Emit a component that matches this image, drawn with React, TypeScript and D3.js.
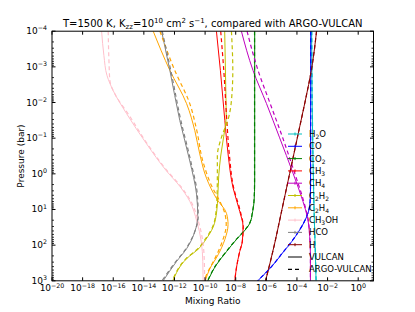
import React from "react";
import * as d3 from "d3";

// chart frame (matplotlib default subplot box for a 415x312 figure)
const W = 415;
const H = 312;
const frame = { left: 52, right: 373.5, top: 31.2, bottom: 280.8 };

// axis ticks (log10 exponents)
const xTickExps = [-20, -18, -16, -14, -12, -10, -8, -6, -4, -2, 0];
const yTickExps = [-4, -3, -2, -1, 0, 1, 2, 3];

// species in legend order
const species = ["H2O", "CO", "CO2", "CH3", "CH4", "C2H2", "C2H4", "CH3OH", "HCO", "H"];
const colors = ["#00bfbf", "#0000ff", "#008000", "#ff0000", "#bf00bf", "#bfbf00", "#ffa500", "#ffc0cb", "#808080", "#8b0000"];

// profiles: [log10 P (bar), log10 mixing ratio]
const H2O_V = [[-4, -3.04], [-2.05, -3.01], [-0.36, -2.95], [1.05, -2.88], [2.04, -2.81], [3, -2.75]];
const H2O_A = [[-4, -3.03], [-2.05, -3.0], [-0.36, -2.95], [1.05, -2.88], [2.04, -2.81], [3, -2.75]];
const CO_V = [[-4, -3.1], [0.2, -3.11], [0.77, -3.14], [1.05, -3.24], [1.33, -3.5], [1.62, -3.89], [1.9, -4.34], [2.18, -4.87], [2.6, -5.65], [3, -6.56]];
const CO_A = [[-4, -3.1], [0.2, -3.11], [0.77, -3.14], [1.05, -3.25], [1.33, -3.51], [1.62, -3.9], [1.9, -4.35], [2.18, -4.88], [2.6, -5.66], [3, -6.57]];
const CO2_V = [[-4, -6.76], [0.21, -6.76], [0.77, -6.8], [1.05, -6.89], [1.39, -7.08], [1.53, -7.3], [1.84, -7.95], [2.18, -8.6], [2.55, -9.26], [3, -9.82]];
const CO2_A = [[-4, -6.77], [0.21, -6.77], [0.77, -6.81], [1.05, -6.9], [1.39, -7.1], [1.53, -7.32], [1.84, -7.97], [2.18, -8.62], [2.55, -9.28], [3, -9.84]];
const CH3_V = [[-4, -9.26], [-2.9, -9.0], [-1.49, -8.71], [-0.56, -8.5], [0.4, -8.17], [1.05, -7.74], [1.48, -7.52], [1.9, -7.57], [2.18, -7.74], [2.63, -7.95], [3, -8.06]];
const CH3_A = [[-4, -8.98], [-2.9, -8.78], [-1.49, -8.58], [-0.56, -8.42], [0.4, -8.13], [1.05, -7.7], [1.48, -7.51], [1.9, -7.57], [2.18, -7.74], [2.63, -7.95], [3, -8.06]];
const CH4_V = [[-4, -7.63], [-2.9, -6.87], [-1.97, -5.99], [-1.01, -5.13], [-0.02, -4.26], [0.77, -3.61], [1.25, -3.3], [1.76, -3.17], [2.27, -3.12], [3, -3.12]];
const CH4_A = [[-4, -7.26], [-2.9, -6.54], [-1.97, -5.75], [-1.01, -4.93], [-0.02, -4.15], [0.77, -3.56], [1.25, -3.28], [1.76, -3.16], [2.27, -3.12], [3, -3.12]];
const C2H2_V = [[-4, -8.72], [-2.42, -8.65], [-1.63, -8.62], [-1.06, -8.78], [-0.5, -8.98], [0.06, -9.11], [0.63, -9.17], [1.05, -9.24], [1.5, -9.48], [1.84, -9.95], [2.07, -10.35], [2.38, -11.21], [3, -12.11]];
const C2H2_A = [[-4, -8.28], [-2.9, -8.19], [-2.05, -8.28], [-1.49, -8.52], [-1.05, -8.91], [-0.49, -9.2], [0.07, -9.2], [0.63, -9.22], [1.05, -9.28], [1.5, -9.52], [1.84, -10.0], [2.07, -10.4], [2.38, -11.25], [3, -12.15]];
const C2H4_V = [[-4, -13.39], [-2.9, -12.3], [-1.97, -11.21], [-1.21, -10.67], [-0.56, -10.35], [0.12, -9.91], [0.69, -9.26], [1.11, -8.6], [1.42, -8.5], [1.84, -8.71], [2.27, -9.15], [2.66, -9.69], [3, -9.99]];
const C2H4_A = [[-4, -12.95], [-2.9, -11.98], [-1.97, -11.0], [-1.21, -10.54], [-0.36, -10.15], [0.35, -9.56], [0.77, -9.04], [1.11, -8.71], [1.42, -8.62], [1.9, -8.88], [2.35, -9.33], [2.75, -9.82], [3, -10.08]];
const CH3OH_V = [[-4, -16.76], [-3.32, -16.61], [-2.76, -16.41], [-2.33, -16.0], [-1.69, -15.13], [-0.84, -13.82], [-0.08, -12.52], [0.35, -11.65], [0.77, -11.0], [1.33, -10.54], [1.9, -10.25], [2.46, -10.15], [3, -10.13]];
const CH3OH_A = [[-4, -16.33], [-3.18, -16.28], [-2.62, -16.22], [-2.19, -15.83], [-1.69, -15.04], [-0.84, -13.77], [-0.08, -12.47], [0.35, -11.59], [0.77, -10.93], [1.33, -10.44], [1.9, -10.15], [2.46, -10.05], [3, -10.03]];
const HCO_V = [[-4, -12.84], [-2.9, -12.3], [-1.49, -11.65], [-0.36, -11.0], [0.57, -10.56], [1.19, -10.48], [1.62, -10.67], [2.1, -11.21], [2.46, -11.87], [3, -12.74]];
const HCO_A = [[-4, -12.8], [-2.9, -12.24], [-1.49, -11.58], [-0.36, -10.94], [0.57, -10.51], [1.19, -10.45], [1.65, -10.7], [2.13, -11.3], [2.49, -11.97], [3, -12.82]];
const H_V = [[-4, -2.72], [-3, -3.02], [-2, -3.48], [-1, -3.98], [0, -4.48], [1, -4.98], [2, -5.48], [3, -6.05]];
const H_A = [[-4, -2.72], [-3, -3.02], [-2, -3.48], [-1, -3.98], [0, -4.48], [1, -4.98], [2, -5.48], [3, -6.05]];

const vulcan = [H2O_V, CO_V, CO2_V, CH3_V, CH4_V, C2H2_V, C2H4_V, CH3OH_V, HCO_V, H_V];
const argo = [H2O_A, CO_A, CO2_A, CH3_A, CH4_A, C2H2_A, C2H4_A, CH3OH_A, HCO_A, H_A];

const FONT = "DejaVu Sans, Liberation Sans, sans-serif";

// "CH3OH" -> CH, sub 3, OH
function chem(label: string) {
  const parts = label.match(/[A-Za-z]+|\d+/g) || [];
  const out: React.ReactNode[] = [];
  let sub = false;
  parts.forEach((p, i) => {
    const isNum = /\d/.test(p);
    const dy = isNum && !sub ? 2 : !isNum && sub ? -2 : 0;
    sub = isNum;
    out.push(
      <tspan key={i} dy={dy} fontSize={isNum ? 6 : 8.5}>
        {p}
      </tspan>
    );
  });
  return out;
}

function Pow10({ e, size }: { e: number; size: number }) {
  const s = e < 0 ? "\u2212" + Math.abs(e) : String(e);
  return (
    <>
      <tspan>10</tspan>
      <tspan dy={-size * 0.42} fontSize={size * 0.7}>
        {s}
      </tspan>
    </>
  );
}

export default function App() {
  const x = d3.scaleLog().domain([1e-20, 1e1]).range([frame.left, frame.right]);
  const y = d3.scaleLog().domain([1e-4, 1e3]).range([frame.top, frame.bottom]);

  const line = d3
    .line<number[]>()
    .x((d) => x(10 ** d[1]))
    .y((d) => y(10 ** d[0]))
    .curve(d3.curveMonotoneY);

  const minorY: number[] = [];
  for (let k = -4; k < 3; k++) for (let m = 2; m <= 9; m++) minorY.push(m * 10 ** k);

  const legendY = (i: number) => 134 + i * 12.3;

  return (
    <svg width={W} height={H} style={{ position: "absolute", left: 0, top: 0, background: "#fff" }} fontFamily={FONT}>
      <defs>
        <clipPath id="plot">
          <rect x={frame.left} y={frame.top} width={frame.right - frame.left} height={frame.bottom - frame.top} />
        </clipPath>
      </defs>

      {/* profiles */}
      <g clipPath="url(#plot)" fill="none">
        {vulcan.map((d, i) => (
          <path key={"v" + i} d={line(d) || ""} stroke={colors[i]} strokeWidth={1} />
        ))}
        {argo.map((d, i) => (
          <path key={"a" + i} d={line(d) || ""} stroke={colors[i]} strokeWidth={1.2} strokeDasharray="4,3" />
        ))}
      </g>

      {/* frame */}
      <rect x={frame.left} y={frame.top} width={frame.right - frame.left} height={frame.bottom - frame.top} fill="none" stroke="#000" strokeWidth={1} />

      {/* x ticks */}
      {xTickExps.map((e) => {
        const px = x(10 ** e);
        return (
          <g key={"xt" + e}>
            <line x1={px} x2={px} y1={frame.bottom} y2={frame.bottom - 3.5} stroke="#000" />
            <line x1={px} x2={px} y1={frame.top} y2={frame.top + 3.5} stroke="#000" />
            <text x={px} y={frame.bottom + 10.5} textAnchor="middle" fontSize={9}>
              <Pow10 e={e} size={9} />
            </text>
          </g>
        );
      })}

      {/* y ticks */}
      {yTickExps.map((e) => {
        const py = y(10 ** e);
        return (
          <g key={"yt" + e}>
            <line x1={frame.left} x2={frame.left + 3.5} y1={py} y2={py} stroke="#000" />
            <line x1={frame.right} x2={frame.right - 3.5} y1={py} y2={py} stroke="#000" />
            <text x={47} y={py + 3} textAnchor="end" fontSize={9}>
              <Pow10 e={e} size={9} />
            </text>
          </g>
        );
      })}
      {minorY.map((v, i) => {
        const py = y(v);
        return (
          <g key={"ym" + i} stroke="#000" strokeWidth={0.8}>
            <line x1={frame.left} x2={frame.left + 2} y1={py} y2={py} />
            <line x1={frame.right} x2={frame.right - 2} y1={py} y2={py} />
          </g>
        );
      })}

      {/* axis labels and title */}
      <text x={(frame.left + frame.right) / 2} y={304} textAnchor="middle" fontSize={9}>
        Mixing Ratio
      </text>
      <text transform={`translate(24,${(frame.top + frame.bottom) / 2}) rotate(-90)`} textAnchor="middle" fontSize={9}>
        Pressure (bar)
      </text>
      <text x={(frame.left + frame.right) / 2} y={27} textAnchor="middle" fontSize={10}>
        <tspan>T=1500 K, K</tspan>
        <tspan dy={2} fontSize={7}>zz</tspan>
        <tspan dy={-2}>=10</tspan>
        <tspan dy={-4} fontSize={7}>10</tspan>
        <tspan dy={4}>{"  cm"}</tspan>
        <tspan dy={-4} fontSize={7}>2</tspan>
        <tspan dy={4}> s</tspan>
        <tspan dy={-4} fontSize={7}>{"\u22121"}</tspan>
        <tspan dy={4}>, compared with ARGO-VULCAN</tspan>
      </text>

      {/* legend */}
      <g>
        {species.map((s, i) => {
          const ly = legendY(i);
          return (
            <g key={"lg" + s}>
              <line x1={288} x2={302} y1={ly} y2={ly} stroke={colors[i]} strokeWidth={1} />
              <line x1={295} x2={295} y1={ly - 1.5} y2={ly + 1.5} stroke={colors[i]} strokeWidth={1} />
              <text x={309} y={ly + 3} fontSize={8.5}>
                {chem(s)}
              </text>
            </g>
          );
        })}
        <line x1={288} x2={302} y1={legendY(10)} y2={legendY(10)} stroke="#000" strokeWidth={1} />
        <text x={309} y={legendY(10) + 3} fontSize={8.5}>
          VULCAN
        </text>
        <line x1={288} x2={302} y1={legendY(11)} y2={legendY(11)} stroke="#000" strokeWidth={1.2} strokeDasharray="4,3" />
        <text x={309} y={legendY(11) + 3} fontSize={8.5}>
          ARGO-VULCAN
        </text>
      </g>
    </svg>
  );
}
